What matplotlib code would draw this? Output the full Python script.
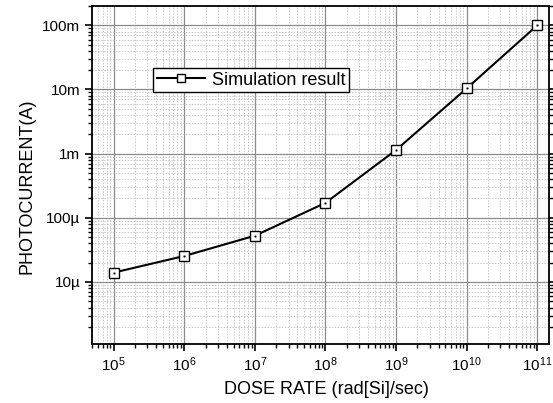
import matplotlib
matplotlib.use("Agg")
import matplotlib.pyplot as plt
from matplotlib.ticker import LogLocator, FixedLocator, FixedFormatter, NullFormatter

plt.rcParams['font.family'] = ['Liberation Sans', 'DejaVu Sans']
plt.rcParams['mathtext.fontset'] = 'custom'
plt.rcParams['mathtext.rm'] = 'Liberation Sans'
plt.rcParams['mathtext.it'] = 'Liberation Sans:italic'

dose_rate = [1e5, 1e6, 1e7, 1e8, 1e9, 1e10, 1e11]
photocurrent = [1.4e-5, 2.54e-5, 5.26e-5, 1.71e-4, 1.14e-3, 1.04e-2, 1.0e-1]
series_label = "Simulation result"
y_ticks = [1e-5, 1e-4, 1e-3, 1e-2, 1e-1]
y_tick_labels = ["10µ", "100µ", "1m", "10m", "100m"]
x_ticks = [1e5, 1e6, 1e7, 1e8, 1e9, 1e10, 1e11]
x_tick_labels = [r"$10^{5}$", r"$10^{6}$", r"$10^{7}$", r"$10^{8}$", r"$10^{9}$", r"$10^{10}$", r"$10^{11}$"]

fig = plt.figure(figsize=(5.53, 4.03), dpi=100)
ax = fig.add_axes([92/553, 1 - 344/403, (549-92)/553, (344-6)/403])

ax.set_xscale('log')
ax.set_yscale('log')
ax.set_xlim(10**4.693, 10**11.166)
ax.set_ylim(1.08e-6, 0.2)

ax.plot(dose_rate, photocurrent, color='black', lw=1.5, marker='s', ms=7.5,
        mfc='white', mec='black', mew=1.0, label=series_label, zorder=3)
ax.plot(dose_rate, photocurrent, ls='none', marker='s', ms=1, mfc='black', mec='black',
        mew=0.3, zorder=4)

ax.xaxis.set_major_locator(FixedLocator(x_ticks))
ax.xaxis.set_major_formatter(FixedFormatter(x_tick_labels))
ax.xaxis.set_minor_locator(LogLocator(base=10, subs=range(2, 10), numticks=20))
ax.xaxis.set_minor_formatter(NullFormatter())
ax.yaxis.set_major_locator(FixedLocator(y_ticks))
ax.yaxis.set_major_formatter(FixedFormatter(y_tick_labels))
ax.yaxis.set_minor_locator(LogLocator(base=10, subs=range(2, 10), numticks=20))
ax.yaxis.set_minor_formatter(NullFormatter())

ax.grid(True, which='major', color='#8c8c8c', lw=0.9, ls='-', zorder=0)
ax.grid(True, which='minor', color='#c8c8c8', lw=0.7, ls=(0, (1.5, 1.5)), zorder=0)
ax.set_axisbelow(True)

ax.tick_params(which='both', direction='out', right=True, top=False, labelsize=11, color='black')
ax.tick_params(which='major', length=5, width=1.2)
ax.tick_params(which='minor', length=3, width=1.0)
for s in ax.spines.values():
    s.set_linewidth(1.3)

ax.set_xlabel("DOSE RATE (rad[Si]/sec)", fontsize=13, labelpad=5)
ax.xaxis.label.set_x(0.514)
ax.set_ylabel("PHOTOCURRENT(A)", fontsize=13)
ax.yaxis.set_label_coords(-0.142, 0.466)
ax.yaxis.label.set_va('center')

leg = ax.legend(loc='upper left', bbox_to_anchor=((153-92)/457, 1 - (68-6)/338),
                fontsize=13, fancybox=False, framealpha=1, edgecolor='black',
                handlelength=2.7, handletextpad=0.35, borderpad=0.2, borderaxespad=0)
leg.get_frame().set_linewidth(1.0)
for h in leg.legend_handles:
    h.set_markersize(6)

fig.savefig("out.png", dpi=100)
